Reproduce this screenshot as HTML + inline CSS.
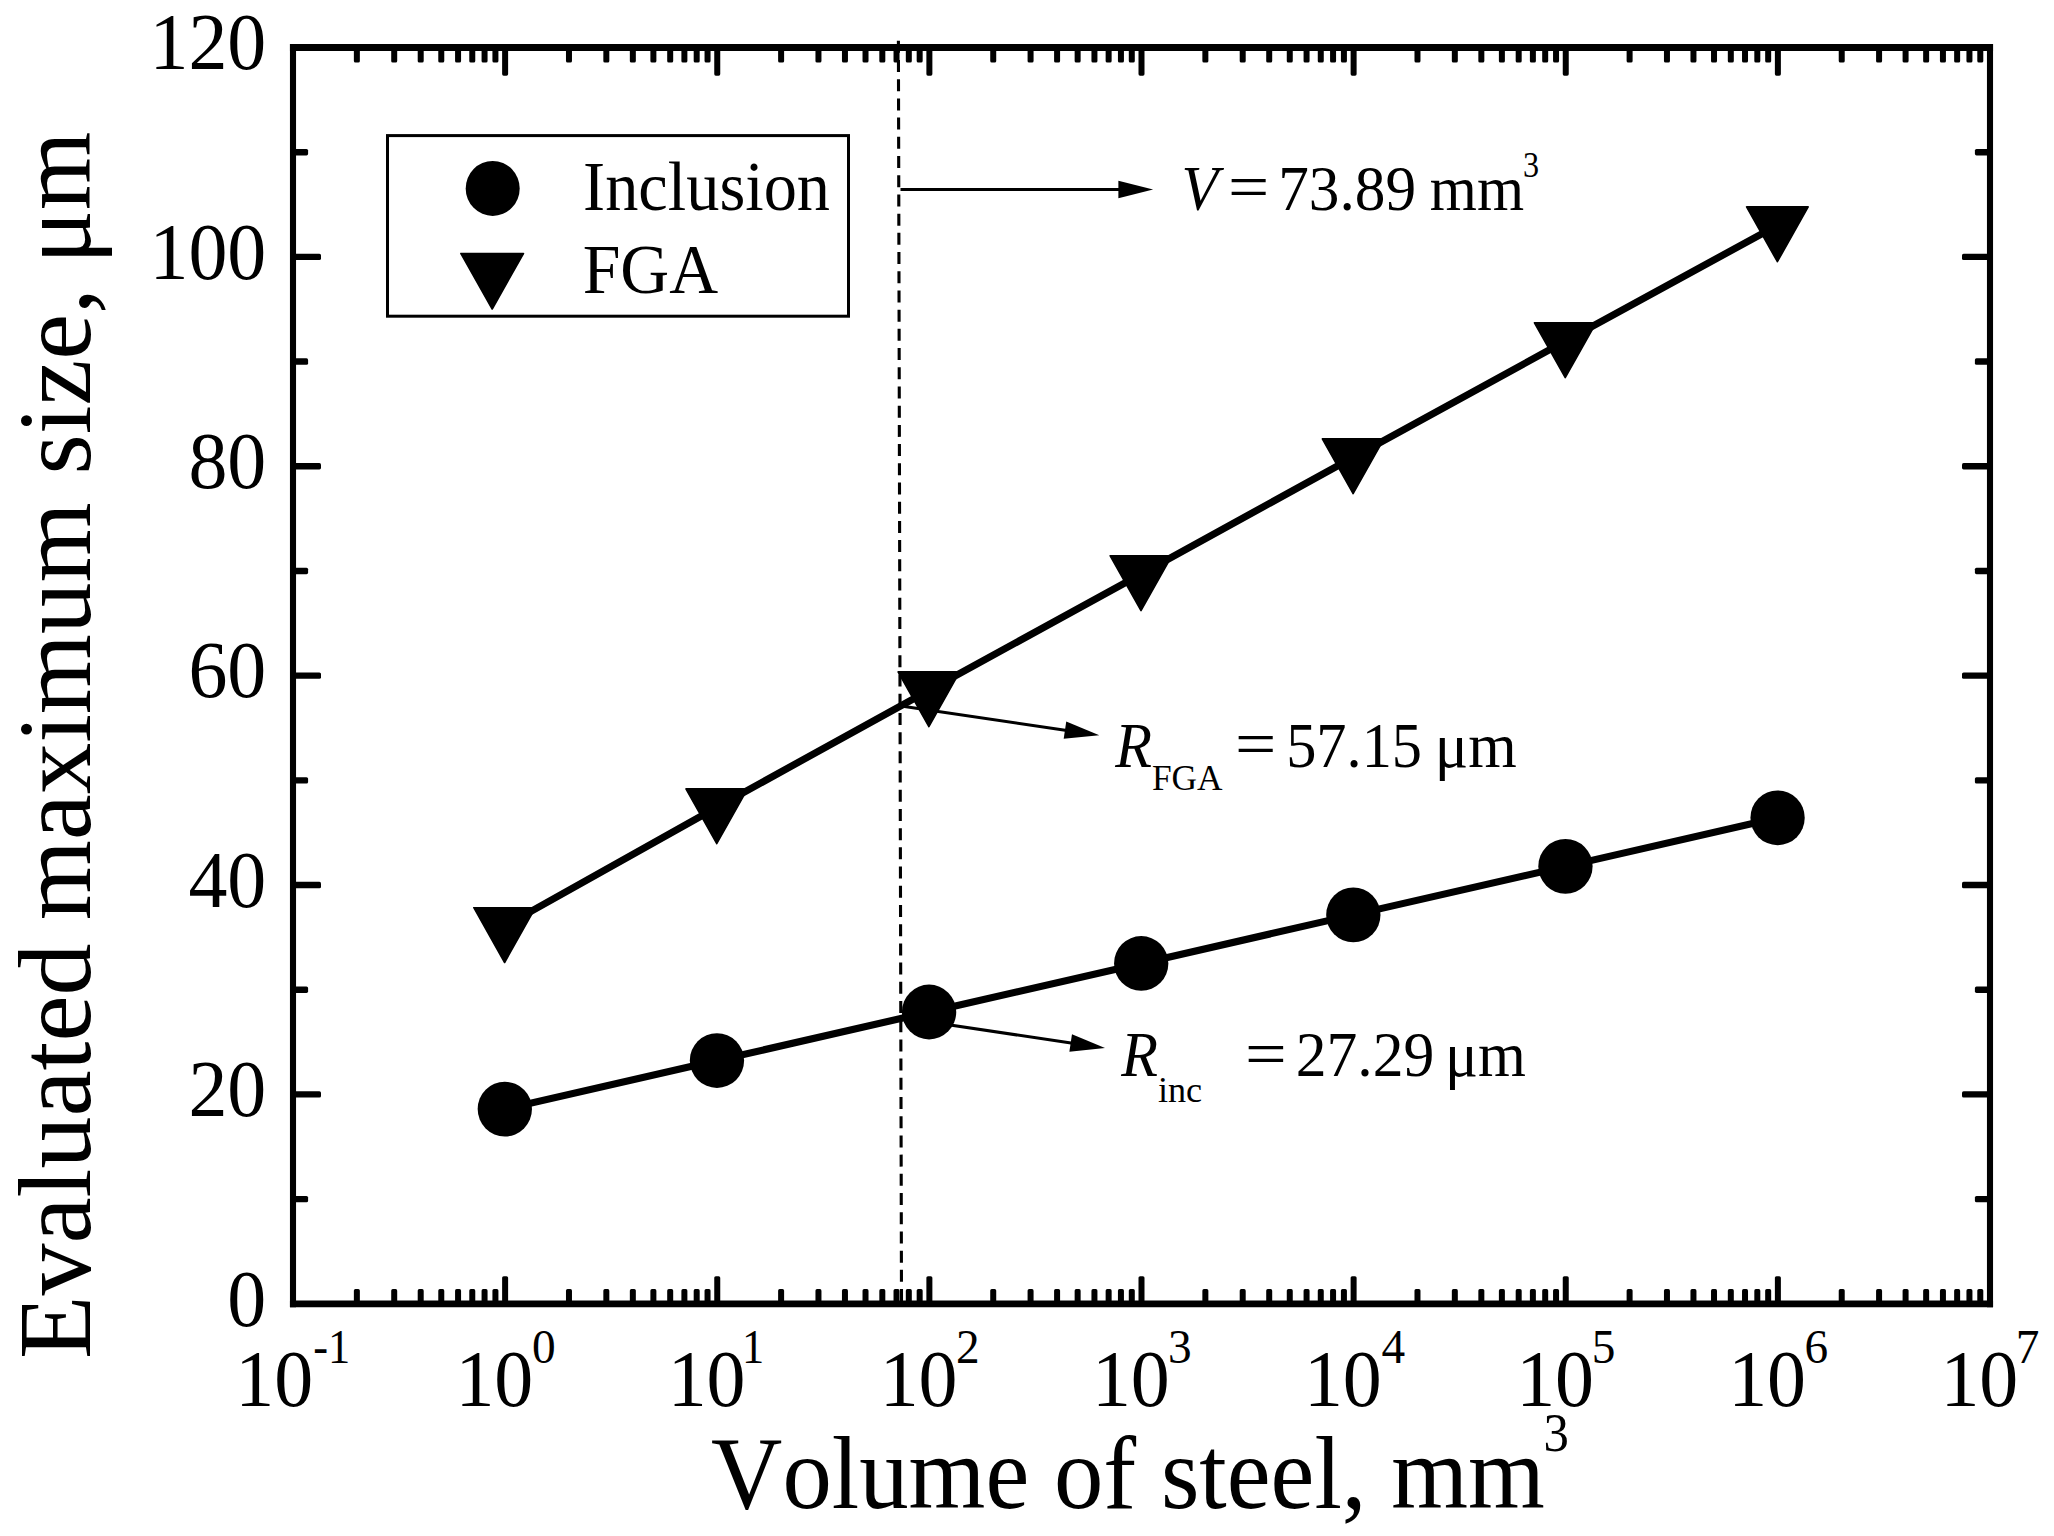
<!DOCTYPE html>
<html lang="en"><head><meta charset="utf-8"><title>Evaluated maximum size vs volume of steel</title>
<style>html,body{margin:0;padding:0;background:#fff;overflow:hidden}svg{display:block}.t{font-family:"Liberation Serif",serif;fill:#000;white-space:pre;font-kerning:none;font-variant-ligatures:none}</style></head><body>
<svg width="2054" height="1536" viewBox="0 0 2054 1536">
<rect id="bg" width="2054" height="1536" fill="#fff"/>
<g id="gfx">
<line x1="898.4" y1="40.8" x2="901.5" y2="1303" stroke="#000" stroke-width="3.1" stroke-dasharray="12 7.204"/>
<g fill="#000">
<rect x="353.86" y="47.50" width="6.00" height="15.10" rx="1.6"/>
<rect x="353.86" y="1289.10" width="6.00" height="14.70" rx="1.6"/>
<rect x="391.21" y="47.50" width="6.00" height="15.10" rx="1.6"/>
<rect x="391.21" y="1289.10" width="6.00" height="14.70" rx="1.6"/>
<rect x="417.71" y="47.50" width="6.00" height="15.10" rx="1.6"/>
<rect x="417.71" y="1289.10" width="6.00" height="14.70" rx="1.6"/>
<rect x="438.27" y="47.50" width="6.00" height="15.10" rx="1.6"/>
<rect x="438.27" y="1289.10" width="6.00" height="14.70" rx="1.6"/>
<rect x="455.07" y="47.50" width="6.00" height="15.10" rx="1.6"/>
<rect x="455.07" y="1289.10" width="6.00" height="14.70" rx="1.6"/>
<rect x="469.27" y="47.50" width="6.00" height="15.10" rx="1.6"/>
<rect x="469.27" y="1289.10" width="6.00" height="14.70" rx="1.6"/>
<rect x="481.57" y="47.50" width="6.00" height="15.10" rx="1.6"/>
<rect x="481.57" y="1289.10" width="6.00" height="14.70" rx="1.6"/>
<rect x="492.42" y="47.50" width="6.00" height="15.10" rx="1.6"/>
<rect x="492.42" y="1289.10" width="6.00" height="14.70" rx="1.6"/>
<rect x="502.12" y="47.50" width="6.00" height="28.20" rx="1.6"/>
<rect x="502.12" y="1276.20" width="6.00" height="27.60" rx="1.6"/>
<rect x="565.98" y="47.50" width="6.00" height="15.10" rx="1.6"/>
<rect x="565.98" y="1289.10" width="6.00" height="14.70" rx="1.6"/>
<rect x="603.33" y="47.50" width="6.00" height="15.10" rx="1.6"/>
<rect x="603.33" y="1289.10" width="6.00" height="14.70" rx="1.6"/>
<rect x="629.84" y="47.50" width="6.00" height="15.10" rx="1.6"/>
<rect x="629.84" y="1289.10" width="6.00" height="14.70" rx="1.6"/>
<rect x="650.39" y="47.50" width="6.00" height="15.10" rx="1.6"/>
<rect x="650.39" y="1289.10" width="6.00" height="14.70" rx="1.6"/>
<rect x="667.19" y="47.50" width="6.00" height="15.10" rx="1.6"/>
<rect x="667.19" y="1289.10" width="6.00" height="14.70" rx="1.6"/>
<rect x="681.39" y="47.50" width="6.00" height="15.10" rx="1.6"/>
<rect x="681.39" y="1289.10" width="6.00" height="14.70" rx="1.6"/>
<rect x="693.69" y="47.50" width="6.00" height="15.10" rx="1.6"/>
<rect x="693.69" y="1289.10" width="6.00" height="14.70" rx="1.6"/>
<rect x="704.54" y="47.50" width="6.00" height="15.10" rx="1.6"/>
<rect x="704.54" y="1289.10" width="6.00" height="14.70" rx="1.6"/>
<rect x="714.25" y="47.50" width="6.00" height="28.20" rx="1.6"/>
<rect x="714.25" y="1276.20" width="6.00" height="27.60" rx="1.6"/>
<rect x="778.11" y="47.50" width="6.00" height="15.10" rx="1.6"/>
<rect x="778.11" y="1289.10" width="6.00" height="14.70" rx="1.6"/>
<rect x="815.46" y="47.50" width="6.00" height="15.10" rx="1.6"/>
<rect x="815.46" y="1289.10" width="6.00" height="14.70" rx="1.6"/>
<rect x="841.96" y="47.50" width="6.00" height="15.10" rx="1.6"/>
<rect x="841.96" y="1289.10" width="6.00" height="14.70" rx="1.6"/>
<rect x="862.52" y="47.50" width="6.00" height="15.10" rx="1.6"/>
<rect x="862.52" y="1289.10" width="6.00" height="14.70" rx="1.6"/>
<rect x="879.32" y="47.50" width="6.00" height="15.10" rx="1.6"/>
<rect x="879.32" y="1289.10" width="6.00" height="14.70" rx="1.6"/>
<rect x="893.52" y="47.50" width="6.00" height="15.10" rx="1.6"/>
<rect x="893.52" y="1289.10" width="6.00" height="14.70" rx="1.6"/>
<rect x="905.82" y="47.50" width="6.00" height="15.10" rx="1.6"/>
<rect x="905.82" y="1289.10" width="6.00" height="14.70" rx="1.6"/>
<rect x="916.67" y="47.50" width="6.00" height="15.10" rx="1.6"/>
<rect x="916.67" y="1289.10" width="6.00" height="14.70" rx="1.6"/>
<rect x="926.38" y="47.50" width="6.00" height="28.20" rx="1.6"/>
<rect x="926.38" y="1276.20" width="6.00" height="27.60" rx="1.6"/>
<rect x="990.23" y="47.50" width="6.00" height="15.10" rx="1.6"/>
<rect x="990.23" y="1289.10" width="6.00" height="14.70" rx="1.6"/>
<rect x="1027.58" y="47.50" width="6.00" height="15.10" rx="1.6"/>
<rect x="1027.58" y="1289.10" width="6.00" height="14.70" rx="1.6"/>
<rect x="1054.09" y="47.50" width="6.00" height="15.10" rx="1.6"/>
<rect x="1054.09" y="1289.10" width="6.00" height="14.70" rx="1.6"/>
<rect x="1074.64" y="47.50" width="6.00" height="15.10" rx="1.6"/>
<rect x="1074.64" y="1289.10" width="6.00" height="14.70" rx="1.6"/>
<rect x="1091.44" y="47.50" width="6.00" height="15.10" rx="1.6"/>
<rect x="1091.44" y="1289.10" width="6.00" height="14.70" rx="1.6"/>
<rect x="1105.64" y="47.50" width="6.00" height="15.10" rx="1.6"/>
<rect x="1105.64" y="1289.10" width="6.00" height="14.70" rx="1.6"/>
<rect x="1117.94" y="47.50" width="6.00" height="15.10" rx="1.6"/>
<rect x="1117.94" y="1289.10" width="6.00" height="14.70" rx="1.6"/>
<rect x="1128.79" y="47.50" width="6.00" height="15.10" rx="1.6"/>
<rect x="1128.79" y="1289.10" width="6.00" height="14.70" rx="1.6"/>
<rect x="1138.50" y="47.50" width="6.00" height="28.20" rx="1.6"/>
<rect x="1138.50" y="1276.20" width="6.00" height="27.60" rx="1.6"/>
<rect x="1202.36" y="47.50" width="6.00" height="15.10" rx="1.6"/>
<rect x="1202.36" y="1289.10" width="6.00" height="14.70" rx="1.6"/>
<rect x="1239.71" y="47.50" width="6.00" height="15.10" rx="1.6"/>
<rect x="1239.71" y="1289.10" width="6.00" height="14.70" rx="1.6"/>
<rect x="1266.21" y="47.50" width="6.00" height="15.10" rx="1.6"/>
<rect x="1266.21" y="1289.10" width="6.00" height="14.70" rx="1.6"/>
<rect x="1286.77" y="47.50" width="6.00" height="15.10" rx="1.6"/>
<rect x="1286.77" y="1289.10" width="6.00" height="14.70" rx="1.6"/>
<rect x="1303.57" y="47.50" width="6.00" height="15.10" rx="1.6"/>
<rect x="1303.57" y="1289.10" width="6.00" height="14.70" rx="1.6"/>
<rect x="1317.77" y="47.50" width="6.00" height="15.10" rx="1.6"/>
<rect x="1317.77" y="1289.10" width="6.00" height="14.70" rx="1.6"/>
<rect x="1330.07" y="47.50" width="6.00" height="15.10" rx="1.6"/>
<rect x="1330.07" y="1289.10" width="6.00" height="14.70" rx="1.6"/>
<rect x="1340.92" y="47.50" width="6.00" height="15.10" rx="1.6"/>
<rect x="1340.92" y="1289.10" width="6.00" height="14.70" rx="1.6"/>
<rect x="1350.62" y="47.50" width="6.00" height="28.20" rx="1.6"/>
<rect x="1350.62" y="1276.20" width="6.00" height="27.60" rx="1.6"/>
<rect x="1414.48" y="47.50" width="6.00" height="15.10" rx="1.6"/>
<rect x="1414.48" y="1289.10" width="6.00" height="14.70" rx="1.6"/>
<rect x="1451.83" y="47.50" width="6.00" height="15.10" rx="1.6"/>
<rect x="1451.83" y="1289.10" width="6.00" height="14.70" rx="1.6"/>
<rect x="1478.34" y="47.50" width="6.00" height="15.10" rx="1.6"/>
<rect x="1478.34" y="1289.10" width="6.00" height="14.70" rx="1.6"/>
<rect x="1498.89" y="47.50" width="6.00" height="15.10" rx="1.6"/>
<rect x="1498.89" y="1289.10" width="6.00" height="14.70" rx="1.6"/>
<rect x="1515.69" y="47.50" width="6.00" height="15.10" rx="1.6"/>
<rect x="1515.69" y="1289.10" width="6.00" height="14.70" rx="1.6"/>
<rect x="1529.89" y="47.50" width="6.00" height="15.10" rx="1.6"/>
<rect x="1529.89" y="1289.10" width="6.00" height="14.70" rx="1.6"/>
<rect x="1542.19" y="47.50" width="6.00" height="15.10" rx="1.6"/>
<rect x="1542.19" y="1289.10" width="6.00" height="14.70" rx="1.6"/>
<rect x="1553.04" y="47.50" width="6.00" height="15.10" rx="1.6"/>
<rect x="1553.04" y="1289.10" width="6.00" height="14.70" rx="1.6"/>
<rect x="1562.75" y="47.50" width="6.00" height="28.20" rx="1.6"/>
<rect x="1562.75" y="1276.20" width="6.00" height="27.60" rx="1.6"/>
<rect x="1626.61" y="47.50" width="6.00" height="15.10" rx="1.6"/>
<rect x="1626.61" y="1289.10" width="6.00" height="14.70" rx="1.6"/>
<rect x="1663.96" y="47.50" width="6.00" height="15.10" rx="1.6"/>
<rect x="1663.96" y="1289.10" width="6.00" height="14.70" rx="1.6"/>
<rect x="1690.46" y="47.50" width="6.00" height="15.10" rx="1.6"/>
<rect x="1690.46" y="1289.10" width="6.00" height="14.70" rx="1.6"/>
<rect x="1711.02" y="47.50" width="6.00" height="15.10" rx="1.6"/>
<rect x="1711.02" y="1289.10" width="6.00" height="14.70" rx="1.6"/>
<rect x="1727.82" y="47.50" width="6.00" height="15.10" rx="1.6"/>
<rect x="1727.82" y="1289.10" width="6.00" height="14.70" rx="1.6"/>
<rect x="1742.02" y="47.50" width="6.00" height="15.10" rx="1.6"/>
<rect x="1742.02" y="1289.10" width="6.00" height="14.70" rx="1.6"/>
<rect x="1754.32" y="47.50" width="6.00" height="15.10" rx="1.6"/>
<rect x="1754.32" y="1289.10" width="6.00" height="14.70" rx="1.6"/>
<rect x="1765.17" y="47.50" width="6.00" height="15.10" rx="1.6"/>
<rect x="1765.17" y="1289.10" width="6.00" height="14.70" rx="1.6"/>
<rect x="1774.88" y="47.50" width="6.00" height="28.20" rx="1.6"/>
<rect x="1774.88" y="1276.20" width="6.00" height="27.60" rx="1.6"/>
<rect x="1838.73" y="47.50" width="6.00" height="15.10" rx="1.6"/>
<rect x="1838.73" y="1289.10" width="6.00" height="14.70" rx="1.6"/>
<rect x="1876.08" y="47.50" width="6.00" height="15.10" rx="1.6"/>
<rect x="1876.08" y="1289.10" width="6.00" height="14.70" rx="1.6"/>
<rect x="1902.59" y="47.50" width="6.00" height="15.10" rx="1.6"/>
<rect x="1902.59" y="1289.10" width="6.00" height="14.70" rx="1.6"/>
<rect x="1923.14" y="47.50" width="6.00" height="15.10" rx="1.6"/>
<rect x="1923.14" y="1289.10" width="6.00" height="14.70" rx="1.6"/>
<rect x="1939.94" y="47.50" width="6.00" height="15.10" rx="1.6"/>
<rect x="1939.94" y="1289.10" width="6.00" height="14.70" rx="1.6"/>
<rect x="1954.14" y="47.50" width="6.00" height="15.10" rx="1.6"/>
<rect x="1954.14" y="1289.10" width="6.00" height="14.70" rx="1.6"/>
<rect x="1966.44" y="47.50" width="6.00" height="15.10" rx="1.6"/>
<rect x="1966.44" y="1289.10" width="6.00" height="14.70" rx="1.6"/>
<rect x="1977.29" y="47.50" width="6.00" height="15.10" rx="1.6"/>
<rect x="1977.29" y="1289.10" width="6.00" height="14.70" rx="1.6"/>
<rect x="293.00" y="1195.91" width="15.10" height="6.40" rx="1.6"/>
<rect x="1974.90" y="1195.91" width="15.10" height="6.40" rx="1.6"/>
<rect x="293.00" y="1091.22" width="28.00" height="6.40" rx="1.6"/>
<rect x="1962.00" y="1091.22" width="28.00" height="6.40" rx="1.6"/>
<rect x="293.00" y="986.52" width="15.10" height="6.40" rx="1.6"/>
<rect x="1974.90" y="986.52" width="15.10" height="6.40" rx="1.6"/>
<rect x="293.00" y="881.83" width="28.00" height="6.40" rx="1.6"/>
<rect x="1962.00" y="881.83" width="28.00" height="6.40" rx="1.6"/>
<rect x="293.00" y="777.14" width="15.10" height="6.40" rx="1.6"/>
<rect x="1974.90" y="777.14" width="15.10" height="6.40" rx="1.6"/>
<rect x="293.00" y="672.45" width="28.00" height="6.40" rx="1.6"/>
<rect x="1962.00" y="672.45" width="28.00" height="6.40" rx="1.6"/>
<rect x="293.00" y="567.76" width="15.10" height="6.40" rx="1.6"/>
<rect x="1974.90" y="567.76" width="15.10" height="6.40" rx="1.6"/>
<rect x="293.00" y="463.07" width="28.00" height="6.40" rx="1.6"/>
<rect x="1962.00" y="463.07" width="28.00" height="6.40" rx="1.6"/>
<rect x="293.00" y="358.37" width="15.10" height="6.40" rx="1.6"/>
<rect x="1974.90" y="358.37" width="15.10" height="6.40" rx="1.6"/>
<rect x="293.00" y="253.68" width="28.00" height="6.40" rx="1.6"/>
<rect x="1962.00" y="253.68" width="28.00" height="6.40" rx="1.6"/>
<rect x="293.00" y="148.99" width="15.10" height="6.40" rx="1.6"/>
<rect x="1974.90" y="148.99" width="15.10" height="6.40" rx="1.6"/>
</g>
<path d="M289.95 47.50H1993.05 M289.95 1303.80H1993.05" stroke="#000" stroke-width="6.8" fill="none"/>
<path d="M293.00 44.10V1307.20 M1990.00 44.10V1307.20" stroke="#000" stroke-width="6.1" fill="none"/>
<polyline fill="none" stroke="#000" stroke-width="7.1" points="504.82,1109.10 716.95,1060.55 929.08,1012.00 1141.20,963.45 1353.33,914.90 1565.45,866.35 1777.58,817.80"/>
<polyline fill="none" stroke="#000" stroke-width="7.1" points="504.62,926.10 716.75,807.30 928.88,690.30 1141.00,574.20 1353.12,457.30 1565.25,341.20 1777.38,225.30"/>
<ellipse cx="504.82" cy="1109.10" rx="27.15" ry="27.4"/>
<ellipse cx="716.95" cy="1060.55" rx="27.15" ry="27.4"/>
<ellipse cx="929.08" cy="1012.00" rx="27.15" ry="27.4"/>
<ellipse cx="1141.20" cy="963.45" rx="27.15" ry="27.4"/>
<ellipse cx="1353.33" cy="914.90" rx="27.15" ry="27.4"/>
<ellipse cx="1565.45" cy="866.35" rx="27.15" ry="27.4"/>
<ellipse cx="1777.58" cy="817.80" rx="27.15" ry="27.4"/>
<path d="M473.82 907.70H535.42L504.62 962.50Z" stroke="#000" stroke-width="1.6" stroke-linejoin="round"/>
<path d="M685.95 788.90H747.55L716.75 843.70Z" stroke="#000" stroke-width="1.6" stroke-linejoin="round"/>
<path d="M898.08 671.90H959.67L928.88 726.70Z" stroke="#000" stroke-width="1.6" stroke-linejoin="round"/>
<path d="M1110.20 555.80H1171.80L1141.00 610.60Z" stroke="#000" stroke-width="1.6" stroke-linejoin="round"/>
<path d="M1322.33 438.90H1383.92L1353.12 493.70Z" stroke="#000" stroke-width="1.6" stroke-linejoin="round"/>
<path d="M1534.45 322.80H1596.05L1565.25 377.60Z" stroke="#000" stroke-width="1.6" stroke-linejoin="round"/>
<path d="M1746.58 206.90H1808.17L1777.38 261.70Z" stroke="#000" stroke-width="1.6" stroke-linejoin="round"/>
<line x1="900.50" y1="189.50" x2="1120.40" y2="189.50" stroke="#000" stroke-width="3.0"/><path d="M1153.10 189.50L1118.40 198.30L1118.40 180.70Z"/>
<line x1="901.00" y1="706.00" x2="1066.95" y2="730.44" stroke="#000" stroke-width="3.0"/><path d="M1099.30 735.20L1063.69 738.85L1066.25 721.44Z"/>
<line x1="930.00" y1="1022.00" x2="1072.66" y2="1043.28" stroke="#000" stroke-width="3.0"/><path d="M1105.00 1048.10L1069.38 1051.69L1071.98 1034.28Z"/>
<rect x="387.5" y="135.6" width="461" height="180.6" fill="#fff" stroke="#000" stroke-width="3"/>
<ellipse cx="492.7" cy="188.4" rx="27" ry="27.5"/>
<path d="M460.9 253.5H523.5L492.2 309.0Z" stroke="#000" stroke-width="1.6" stroke-linejoin="round"/>
</g>
<g id="txt">
<text id="y0" class="t" transform="translate(266.30 1325.60) scale(0.9650 1.0000)" font-size="80.7" text-anchor="end">0</text>
<text id="y20" class="t" transform="translate(266.30 1116.22) scale(0.9650 1.0000)" font-size="80.7" text-anchor="end">20</text>
<text id="y40" class="t" transform="translate(266.30 906.83) scale(0.9650 1.0000)" font-size="80.7" text-anchor="end">40</text>
<text id="y60" class="t" transform="translate(266.30 697.45) scale(0.9650 1.0000)" font-size="80.7" text-anchor="end">60</text>
<text id="y80" class="t" transform="translate(266.30 488.07) scale(0.9650 1.0000)" font-size="80.7" text-anchor="end">80</text>
<text id="y100" class="t" transform="translate(266.30 278.68) scale(0.9650 1.0000)" font-size="80.7" text-anchor="end">100</text>
<text id="y120" class="t" transform="translate(266.30 69.30) scale(0.9650 1.0000)" font-size="80.7" text-anchor="end">120</text>
<text id="x-1" class="t" transform="translate(313.20 1406.00) scale(0.9650 1.0000)" font-size="80.7" text-anchor="end">10</text>
<text id="xs-1" class="t" transform="translate(313.25 1363.30) scale(0.9300 1.0000)" font-size="47.8">-1</text>
<text id="x0" class="t" transform="translate(533.30 1406.00) scale(0.9650 1.0000)" font-size="80.7" text-anchor="end">10</text>
<text id="xs0" class="t" transform="translate(532.05 1363.30) scale(0.9900 1.0000)" font-size="47.8">0</text>
<text id="x1" class="t" transform="translate(745.55 1406.00) scale(0.9650 1.0000)" font-size="80.7" text-anchor="end">10</text>
<text id="xs1" class="t" transform="translate(742.05 1363.30) scale(0.9300 1.0000)" font-size="47.8">1</text>
<text id="x2" class="t" transform="translate(957.55 1406.00) scale(0.9650 1.0000)" font-size="80.7" text-anchor="end">10</text>
<text id="xs2" class="t" transform="translate(956.05 1363.30) scale(0.9900 1.0000)" font-size="47.8">2</text>
<text id="x3" class="t" transform="translate(1169.80 1406.00) scale(0.9650 1.0000)" font-size="80.7" text-anchor="end">10</text>
<text id="xs3" class="t" transform="translate(1168.05 1363.30) scale(0.9900 1.0000)" font-size="47.8">3</text>
<text id="x4" class="t" transform="translate(1381.80 1406.00) scale(0.9650 1.0000)" font-size="80.7" text-anchor="end">10</text>
<text id="xs4" class="t" transform="translate(1381.55 1363.30) scale(0.9900 1.0000)" font-size="47.8">4</text>
<text id="x5" class="t" transform="translate(1594.05 1406.00) scale(0.9650 1.0000)" font-size="80.7" text-anchor="end">10</text>
<text id="xs5" class="t" transform="translate(1591.80 1363.30) scale(0.9900 1.0000)" font-size="47.8">5</text>
<text id="x6" class="t" transform="translate(1806.05 1406.00) scale(0.9650 1.0000)" font-size="80.7" text-anchor="end">10</text>
<text id="xs6" class="t" transform="translate(1804.55 1363.30) scale(0.9900 1.0000)" font-size="47.8">6</text>
<text id="x7" class="t" transform="translate(2018.30 1406.00) scale(0.9650 1.0000)" font-size="80.7" text-anchor="end">10</text>
<text id="xs7" class="t" transform="translate(2015.80 1363.30) scale(0.9900 1.0000)" font-size="47.8">7</text>
<text id="xtitle" class="t" transform="translate(711.10 1508.20) scale(0.9496 1.0000)" font-size="104">Volume of steel, mm</text>
<text id="xtitle3" class="t" transform="translate(1543.50 1451.30) scale(0.9225 1.0000)" font-size="55">3</text>
<text id="yt1" class="t" transform="translate(90.00 1359.00) rotate(-90) scale(0.9994 1.0000)" font-size="104">Evaluated</text>
<text id="yt2" class="t" transform="translate(90.00 920.15) rotate(-90) scale(0.9906 1.0000)" font-size="104">maximum</text>
<text id="yt3" class="t" transform="translate(90.00 474.40) rotate(-90) scale(0.9923 1.0000)" font-size="104">size,</text>
<text id="yt4" class="t" transform="translate(90.00 263.95) rotate(-90) scale(0.9695 1.0000)" font-size="104">μm</text>
<text id="leg1" class="t" transform="translate(583.05 210.10) scale(0.9550 1.0000)" font-size="69.5">Inclusion</text>
<text id="leg2" class="t" transform="translate(582.65 292.80) scale(0.9744 1.0000)" font-size="69.5">FGA</text>
<text id="aV" class="t" transform="translate(1181.45 210.00) scale(0.9550 1.0000)" font-size="63" font-style="italic">V</text>
<text id="aVe" class="t" transform="translate(1227.90 208.30) scale(1.1614 1.0000)" font-size="63">=</text>
<text id="aV2" class="t" transform="translate(1278.20 210.00) scale(0.9731 1.0000)" font-size="63">73.89</text>
<text id="aV4" class="t" transform="translate(1429.80 210.00) scale(0.9618 1.0000)" font-size="63">mm</text>
<text id="aV3" class="t" transform="translate(1523.00 176.50) scale(0.8818 1.0000)" font-size="36.5">3</text>
<text id="aF" class="t" transform="translate(1115.25 766.50) scale(0.9550 1.0000)" font-size="63" font-style="italic">R</text>
<text id="aFs" class="t" transform="translate(1151.95 789.90) scale(0.9683 1.0000)" font-size="36.5">FGA</text>
<text id="aFe" class="t" transform="translate(1235.05 764.80) scale(1.1631 1.0000)" font-size="63">=</text>
<text id="aF2" class="t" transform="translate(1286.15 766.50) scale(0.9587 1.0000)" font-size="63">57.15</text>
<text id="aF4" class="t" transform="translate(1434.85 766.50) scale(0.9902 1.0000)" font-size="63">μm</text>
<text id="aI" class="t" transform="translate(1121.25 1076.40) scale(0.9550 1.0000)" font-size="63" font-style="italic">R</text>
<text id="aIs" class="t" transform="translate(1157.90 1102.00) scale(0.9914 1.0000)" font-size="36.5">inc</text>
<text id="aIe" class="t" transform="translate(1244.90 1074.70) scale(1.1750 1.0000)" font-size="63">=</text>
<text id="aI2" class="t" transform="translate(1295.75 1076.40) scale(0.9781 1.0000)" font-size="63">27.29</text>
<text id="aI4" class="t" transform="translate(1445.00 1076.40) scale(0.9779 1.0000)" font-size="63">μm</text>
</g>
</svg></body></html>
